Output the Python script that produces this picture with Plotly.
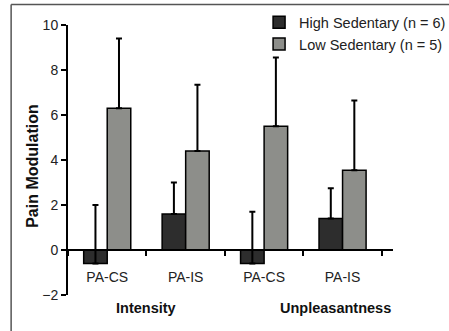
import plotly.graph_objects as go

# Conditions (unique ids) and the labels shown under each bar pair
conditions = ["Intensity PA-CS", "Intensity PA-IS", "Unpleasantness PA-CS", "Unpleasantness PA-IS"]
condition_labels = ["PA-CS", "PA-IS", "PA-CS", "PA-IS"]

# Mean pain modulation per group
high_sedentary = [-0.6, 1.6, -0.6, 1.4]
low_sedentary = [6.3, 4.4, 5.5, 3.55]

# Upper error (SD) per group
high_sedentary_err = [2.6, 1.4, 2.3, 1.35]
low_sedentary_err = [3.1, 2.95, 3.05, 3.1]

y_ticks = [-2, 0, 2, 4, 6, 8, 10]

FONT = "Arial, Liberation Sans, sans-serif"

fig = go.Figure()

fig.add_trace(go.Bar(
    x=conditions, y=high_sedentary, name="High Sedentary (n = 6)",
    marker=dict(color="#2d2d2d", line=dict(color="#000000", width=1.5)),
    error_y=dict(type="data", symmetric=False, array=high_sedentary_err,
                 arrayminus=[0] * len(high_sedentary_err),
                 color="#000000", thickness=2, width=3),
))
fig.add_trace(go.Bar(
    x=conditions, y=low_sedentary, name="Low Sedentary (n = 5)",
    marker=dict(color="#8d8e8a", line=dict(color="#000000", width=1.5)),
    error_y=dict(type="data", symmetric=False, array=low_sedentary_err,
                 arrayminus=[0] * len(low_sedentary_err),
                 color="#000000", thickness=2, width=3),
))

fig.update_layout(
    width=449, height=331,
    margin=dict(l=68, r=56, t=25, b=36, autoexpand=False),
    paper_bgcolor="white", plot_bgcolor="white",
    barmode="group", bargap=0.4, bargroupgap=0,
    font=dict(family=FONT, size=14, color="#222222"),
    showlegend=True,
    legend=dict(xref="container", yref="container",
                x=0.577, y=0.981, xanchor="left", yanchor="top",
                bgcolor="rgba(0,0,0,0)", font=dict(size=14.5, color="#222222"),
                tracegroupgap=0, itemwidth=30),
    xaxis=dict(
        type="category", categoryorder="array", categoryarray=conditions,
        tickmode="array", tickvals=conditions, ticktext=condition_labels,
        tickson="boundaries", ticks="outside", ticklen=5, tickwidth=2,
        tickcolor="#000000", ticklabelstandoff=14,
        showline=True, linecolor="#000000", linewidth=2,
        showgrid=False, zeroline=False,
        anchor="free", position=2 / 12,
        tickfont=dict(size=14),
    ),
    yaxis=dict(
        range=[-2, 10], tickmode="array", tickvals=y_ticks,
        ticks="outside", ticklen=5, tickwidth=2, tickcolor="#000000",
        showline=True, linecolor="#000000", linewidth=2,
        showgrid=False, zeroline=False,
        tickfont=dict(size=14),
    ),
)

# Y-axis title and group titles
fig.add_annotation(text="<b>Pain Modulation</b>", textangle=-90,
                   xref="paper", yref="paper", x=-0.108, y=0.478,
                   xanchor="center", yanchor="middle",
                   showarrow=False, font=dict(size=16, color="#111111"))
fig.add_annotation(text="<b>Intensity</b>", xref="x", yref="paper",
                   x=0.5, y=-0.048, xanchor="center", yanchor="middle",
                   showarrow=False, font=dict(size=14.5, color="#111111"))
fig.add_annotation(text="<b>Unpleasantness</b>", xref="x", yref="paper",
                   x=2.91, y=-0.048, xanchor="center", yanchor="middle",
                   showarrow=False, font=dict(size=14.5, color="#111111"))

# Outer frame lines (top and left)
fig.add_shape(type="line", xref="paper", yref="paper",
              x0=-0.175, x1=1.2, y0=1.076, y1=1.076,
              line=dict(color="#555555", width=1.5))
fig.add_shape(type="line", xref="paper", yref="paper",
              x0=-0.175, x1=-0.175, y0=-0.2, y1=1.076,
              line=dict(color="#555555", width=1.5))

fig.write_html("out.html")
